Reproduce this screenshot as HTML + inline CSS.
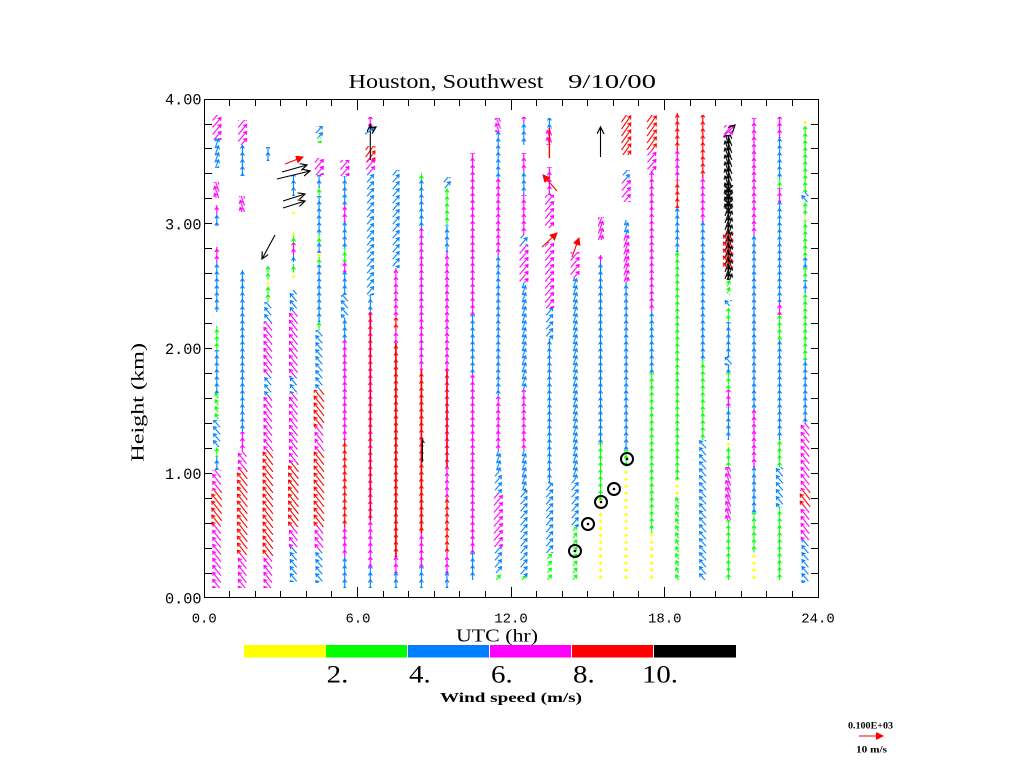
<!DOCTYPE html>
<html><head><meta charset="utf-8"><style>
html,body{margin:0;padding:0;background:#fff;width:1024px;height:768px;overflow:hidden}
svg{display:block}
.ser{font-family:"Liberation Serif",serif}
.mono{font-family:"Liberation Mono",monospace}
</style></head><body>
<svg width="1024" height="768" viewBox="0 0 1024 768" xmlns="http://www.w3.org/2000/svg">
<defs>
<path id="aY" fill="none" stroke-width="1.1" d="M0 1.5V-1.5M-1.5 0.5L0-1.5L1.5 0.5"/>
<path id="aG" fill="none" stroke-width="1.1" d="M0 3V-3M-2 0L0-3L2 0"/>
<path id="aB" fill="none" stroke-width="1.1" d="M0 5V-5M-2-2L0-5L2-2"/>
<path id="aM" fill="none" stroke-width="1.1" d="M0 6.5V-6.5M-2-3.5L0-6.5L2-3.5"/>
<path id="aR" fill="none" stroke-width="1.1" d="M0 8V-8M-2-5L0-8L2-5"/>
<path id="aK" fill="none" stroke-width="1.1" d="M0 10V-10M-2-7L0-10L2-7"/>

<pattern id="YN" patternUnits="userSpaceOnUse" x="-20" y="0" width="40" height="7"><g stroke="#ffff00" transform="translate(20,3.5)"><use href="#aY" transform="translate(0,-7)"/><use href="#aY"/><use href="#aY" transform="translate(0,7)"/></g></pattern>

<pattern id="GN" patternUnits="userSpaceOnUse" x="-20" y="0" width="40" height="7"><g stroke="#00ff00" transform="translate(20,3.5)"><use href="#aG" transform="translate(0,-7)"/><use href="#aG"/><use href="#aG" transform="translate(0,7)"/></g></pattern>
<pattern id="GNNW" patternUnits="userSpaceOnUse" x="-20" y="0" width="40" height="7"><g stroke="#00ff00" transform="translate(20,3.5)"><use href="#aG" transform="translate(0,-7)rotate(-25)"/><use href="#aG" transform="rotate(-25)"/><use href="#aG" transform="translate(0,7)rotate(-25)"/></g></pattern>
<pattern id="GNE" patternUnits="userSpaceOnUse" x="-20" y="0" width="40" height="7"><g stroke="#00ff00" transform="translate(20,3.5)"><use href="#aG" transform="translate(0,-7)rotate(40)"/><use href="#aG" transform="rotate(40)"/><use href="#aG" transform="translate(0,7)rotate(40)"/></g></pattern>
<pattern id="GNNE" patternUnits="userSpaceOnUse" x="-20" y="0" width="40" height="7"><g stroke="#00ff00" transform="translate(20,3.5)"><use href="#aG" transform="translate(0,-7)rotate(20)"/><use href="#aG" transform="rotate(20)"/><use href="#aG" transform="translate(0,7)rotate(20)"/></g></pattern>

<pattern id="BN" patternUnits="userSpaceOnUse" x="-20" y="0" width="40" height="7"><g stroke="#0080ff" transform="translate(20,3.5)"><use href="#aB" transform="translate(0,-14)"/><use href="#aB" transform="translate(0,-7)"/><use href="#aB"/><use href="#aB" transform="translate(0,7)"/><use href="#aB" transform="translate(0,14)"/></g></pattern>
<pattern id="BNW" patternUnits="userSpaceOnUse" x="-20" y="0" width="40" height="7"><g stroke="#0080ff" transform="translate(20,3.5)"><use href="#aB" transform="translate(0,-14)rotate(-40)"/><use href="#aB" transform="translate(0,-7)rotate(-40)"/><use href="#aB" transform="rotate(-40)"/><use href="#aB" transform="translate(0,7)rotate(-40)"/><use href="#aB" transform="translate(0,14)rotate(-40)"/></g></pattern>
<pattern id="BNE" patternUnits="userSpaceOnUse" x="-20" y="0" width="40" height="7"><g stroke="#0080ff" transform="translate(20,3.5)"><use href="#aB" transform="translate(0,-14)rotate(40)"/><use href="#aB" transform="translate(0,-7)rotate(40)"/><use href="#aB" transform="rotate(40)"/><use href="#aB" transform="translate(0,7)rotate(40)"/><use href="#aB" transform="translate(0,14)rotate(40)"/></g></pattern>
<pattern id="BNNE" patternUnits="userSpaceOnUse" x="-20" y="0" width="40" height="7"><g stroke="#0080ff" transform="translate(20,3.5)"><use href="#aB" transform="translate(0,-14)rotate(20)"/><use href="#aB" transform="translate(0,-7)rotate(20)"/><use href="#aB" transform="rotate(20)"/><use href="#aB" transform="translate(0,7)rotate(20)"/><use href="#aB" transform="translate(0,14)rotate(20)"/></g></pattern>

<pattern id="MN" patternUnits="userSpaceOnUse" x="-20" y="0" width="40" height="7"><g stroke="#ff00ff" transform="translate(20,3.5)"><use href="#aM" transform="translate(0,-14)"/><use href="#aM" transform="translate(0,-7)"/><use href="#aM"/><use href="#aM" transform="translate(0,7)"/><use href="#aM" transform="translate(0,14)"/></g></pattern>
<pattern id="MNW" patternUnits="userSpaceOnUse" x="-20" y="0" width="40" height="7"><g stroke="#ff00ff" transform="translate(20,3.5)"><use href="#aM" transform="translate(0,-14)rotate(-38)"/><use href="#aM" transform="translate(0,-7)rotate(-38)"/><use href="#aM" transform="rotate(-38)"/><use href="#aM" transform="translate(0,7)rotate(-38)"/><use href="#aM" transform="translate(0,14)rotate(-38)"/></g></pattern>
<pattern id="MNE" patternUnits="userSpaceOnUse" x="-20" y="0" width="40" height="7"><g stroke="#ff00ff" transform="translate(20,3.5)"><use href="#aM" transform="translate(0,-14)rotate(40)"/><use href="#aM" transform="translate(0,-7)rotate(40)"/><use href="#aM" transform="rotate(40)"/><use href="#aM" transform="translate(0,7)rotate(40)"/><use href="#aM" transform="translate(0,14)rotate(40)"/></g></pattern>
<pattern id="MNNW" patternUnits="userSpaceOnUse" x="-20" y="0" width="40" height="7"><g stroke="#ff00ff" transform="translate(20,3.5)"><use href="#aM" transform="translate(0,-14)rotate(-20)"/><use href="#aM" transform="translate(0,-7)rotate(-20)"/><use href="#aM" transform="rotate(-20)"/><use href="#aM" transform="translate(0,7)rotate(-20)"/><use href="#aM" transform="translate(0,14)rotate(-20)"/></g></pattern>
<pattern id="MNNE" patternUnits="userSpaceOnUse" x="-20" y="0" width="40" height="7"><g stroke="#ff00ff" transform="translate(20,3.5)"><use href="#aM" transform="translate(0,-14)rotate(20)"/><use href="#aM" transform="translate(0,-7)rotate(20)"/><use href="#aM" transform="rotate(20)"/><use href="#aM" transform="translate(0,7)rotate(20)"/><use href="#aM" transform="translate(0,14)rotate(20)"/></g></pattern>

<pattern id="RN" patternUnits="userSpaceOnUse" x="-20" y="0" width="40" height="7"><g stroke="#ff0000" transform="translate(20,3.5)"><use href="#aR" transform="translate(0,-14)"/><use href="#aR" transform="translate(0,-7)"/><use href="#aR"/><use href="#aR" transform="translate(0,7)"/><use href="#aR" transform="translate(0,14)"/></g></pattern>
<pattern id="RNW" patternUnits="userSpaceOnUse" x="-20" y="0" width="40" height="7"><g stroke="#ff0000" transform="translate(20,3.5)"><use href="#aR" transform="translate(0,-14)rotate(-38)"/><use href="#aR" transform="translate(0,-7)rotate(-38)"/><use href="#aR" transform="rotate(-38)"/><use href="#aR" transform="translate(0,7)rotate(-38)"/><use href="#aR" transform="translate(0,14)rotate(-38)"/></g></pattern>
<pattern id="RNE" patternUnits="userSpaceOnUse" x="-20" y="0" width="40" height="7"><g stroke="#ff0000" transform="translate(20,3.5)"><use href="#aR" transform="translate(0,-14)rotate(35)"/><use href="#aR" transform="translate(0,-7)rotate(35)"/><use href="#aR" transform="rotate(35)"/><use href="#aR" transform="translate(0,7)rotate(35)"/><use href="#aR" transform="translate(0,14)rotate(35)"/></g></pattern>

<pattern id="KN" patternUnits="userSpaceOnUse" x="-20" y="0" width="40" height="7"><g stroke="#000" transform="translate(20,3.5)"><use href="#aK" transform="translate(0,-14)"/><use href="#aK" transform="translate(0,-7)"/><use href="#aK"/><use href="#aK" transform="translate(0,7)"/><use href="#aK" transform="translate(0,14)"/></g></pattern>
<pattern id="KNW" patternUnits="userSpaceOnUse" x="-20" y="0" width="40" height="7"><g stroke="#000" transform="translate(20,3.5)"><use href="#aK" transform="translate(0,-14)rotate(-20)"/><use href="#aK" transform="translate(0,-7)rotate(-20)"/><use href="#aK" transform="rotate(-20)"/><use href="#aK" transform="translate(0,7)rotate(-20)"/><use href="#aK" transform="translate(0,14)rotate(-20)"/></g></pattern>
<pattern id="KNE" patternUnits="userSpaceOnUse" x="-20" y="0" width="40" height="7"><g stroke="#000" transform="translate(20,3.5)"><use href="#aK" transform="translate(0,-14)rotate(20)"/><use href="#aK" transform="translate(0,-7)rotate(20)"/><use href="#aK" transform="rotate(20)"/><use href="#aK" transform="translate(0,7)rotate(20)"/><use href="#aK" transform="translate(0,14)rotate(20)"/></g></pattern>

<marker id="mK" markerWidth="10" markerHeight="10" refX="7" refY="3.5" orient="auto" markerUnits="userSpaceOnUse"><path d="M0 0L7 3.5L0 7" fill="none" stroke="#000" stroke-width="1.2"/></marker>
<marker id="mR" markerWidth="10" markerHeight="10" refX="7" refY="3.5" orient="auto" markerUnits="userSpaceOnUse"><path d="M0 0L7 3.5L0 7z" fill="#f00" stroke="#f00" stroke-width="1"/></marker>
</defs>

<!-- Data columns -->
<g transform="translate(216.8,0)">
<rect x="-20" width="40" y="115" height="25" fill="url(#MNE)"/>
<rect x="-20" width="40" y="138" height="30" fill="url(#BNNE)"/>
<rect x="-20" width="40" y="182" height="16" fill="url(#MNNW)"/>
<rect x="-20" width="40" y="205" height="9" fill="url(#MN)"/>
<rect x="-20" width="40" y="214" height="12" fill="url(#BN)"/>
<rect x="-20" width="40" y="247" height="15" fill="url(#MN)"/>
<rect x="-20" width="40" y="262" height="50" fill="url(#BN)"/>
<rect x="-20" width="40" y="326" height="24" fill="url(#GN)"/>
<rect x="-20" width="40" y="350" height="43" fill="url(#BN)"/>
<rect x="-20" width="40" y="393" height="27" fill="url(#GNNW)"/>
<rect x="-20" width="40" y="420" height="27" fill="url(#BNW)"/>
<rect x="-20" width="40" y="447" height="10" fill="url(#GN)"/>
<rect x="-20" width="40" y="457" height="13" fill="url(#BN)"/>
<rect x="-20" width="40" y="470" height="20" fill="url(#MNW)"/>
<rect x="-20" width="40" y="490" height="35" fill="url(#RNW)"/>
<rect x="-20" width="40" y="525" height="63" fill="url(#MNW)"/>
</g>
<g transform="translate(242.4,0)">
<rect x="-20" width="40" y="120" height="25" fill="url(#MNE)"/>
<rect x="-20" width="40" y="145" height="31" fill="url(#BN)"/>
<rect x="-20" width="40" y="196" height="16" fill="url(#MNNW)"/>
<rect x="-20" width="40" y="270" height="162" fill="url(#BN)"/>
<rect x="-20" width="40" y="432" height="20" fill="url(#MN)"/>
<rect x="-20" width="40" y="452" height="18" fill="url(#MNW)"/>
<rect x="-20" width="40" y="470" height="85" fill="url(#RNW)"/>
<rect x="-20" width="40" y="555" height="33" fill="url(#MNW)"/>
</g>
<g transform="translate(268,0)">
<rect x="-20" width="40" y="147" height="14" fill="url(#BN)"/>
<rect x="-20" width="40" y="266" height="14" fill="url(#GN)"/>
<rect x="-20" width="40" y="280" height="6" fill="url(#YN)"/>
<rect x="-20" width="40" y="286" height="16" fill="url(#GN)"/>
<rect x="-20" width="40" y="302" height="20" fill="url(#BNW)"/>
<rect x="-20" width="40" y="322" height="53" fill="url(#MNW)"/>
<rect x="-20" width="40" y="375" height="22" fill="url(#BNW)"/>
<rect x="-20" width="40" y="397" height="53" fill="url(#MNW)"/>
<rect x="-20" width="40" y="450" height="107" fill="url(#RNW)"/>
<rect x="-20" width="40" y="557" height="31" fill="url(#MNW)"/>
</g>
<g transform="translate(293.5,0)">
<rect x="-20" width="40" y="175" height="21" fill="url(#BN)"/>
<rect x="-20" width="40" y="208" height="6" fill="url(#YN)"/>
<rect x="-20" width="40" y="231" height="5" fill="url(#YN)"/>
<rect x="-20" width="40" y="236" height="7" fill="url(#GN)"/>
<rect x="-20" width="40" y="243" height="13" fill="url(#MN)"/>
<rect x="-20" width="40" y="256" height="6" fill="url(#BN)"/>
<rect x="-20" width="40" y="264" height="9" fill="url(#GN)"/>
<rect x="-20" width="40" y="275" height="5" fill="url(#YN)"/>
<rect x="-20" width="40" y="290" height="22" fill="url(#BNW)"/>
<rect x="-20" width="40" y="312" height="65" fill="url(#MNW)"/>
<rect x="-20" width="40" y="377" height="16" fill="url(#BNW)"/>
<rect x="-20" width="40" y="393" height="70" fill="url(#MNW)"/>
<rect x="-20" width="40" y="463" height="64" fill="url(#RNW)"/>
<rect x="-20" width="40" y="527" height="20" fill="url(#MNW)"/>
<rect x="-20" width="40" y="547" height="35" fill="url(#BNW)"/>
</g>
<g transform="translate(319.1,0)">
<rect x="-20" width="40" y="126" height="11" fill="url(#BNE)"/>
<rect x="-20" width="40" y="137" height="6" fill="url(#GNE)"/>
<rect x="-20" width="40" y="158" height="17" fill="url(#MNE)"/>
<rect x="-20" width="40" y="175" height="13" fill="url(#BN)"/>
<rect x="-20" width="40" y="188" height="8" fill="url(#GN)"/>
<rect x="-20" width="40" y="196" height="38" fill="url(#BN)"/>
<rect x="-20" width="40" y="234" height="8" fill="url(#GN)"/>
<rect x="-20" width="40" y="242" height="11" fill="url(#BN)"/>
<rect x="-20" width="40" y="253" height="4" fill="url(#YN)"/>
<rect x="-20" width="40" y="257" height="8" fill="url(#GN)"/>
<rect x="-20" width="40" y="265" height="57" fill="url(#BN)"/>
<rect x="-20" width="40" y="322" height="8" fill="url(#GN)"/>
<rect x="-20" width="40" y="330" height="60" fill="url(#BNW)"/>
<rect x="-20" width="40" y="390" height="37" fill="url(#RNW)"/>
<rect x="-20" width="40" y="427" height="23" fill="url(#MNW)"/>
<rect x="-20" width="40" y="450" height="77" fill="url(#RNW)"/>
<rect x="-20" width="40" y="527" height="23" fill="url(#MNW)"/>
<rect x="-20" width="40" y="550" height="33" fill="url(#BNW)"/>
</g>
<g transform="translate(344.7,0)">
<rect x="-20" width="40" y="160" height="16" fill="url(#MNE)"/>
<rect x="-20" width="40" y="176" height="29" fill="url(#BN)"/>
<rect x="-20" width="40" y="205" height="17" fill="url(#MN)"/>
<rect x="-20" width="40" y="222" height="26" fill="url(#BN)"/>
<rect x="-20" width="40" y="248" height="14" fill="url(#GN)"/>
<rect x="-20" width="40" y="262" height="10" fill="url(#MN)"/>
<rect x="-20" width="40" y="272" height="23" fill="url(#BN)"/>
<rect x="-20" width="40" y="295" height="23" fill="url(#BNW)"/>
<rect x="-20" width="40" y="318" height="22" fill="url(#BN)"/>
<rect x="-20" width="40" y="340" height="100" fill="url(#MN)"/>
<rect x="-20" width="40" y="440" height="87" fill="url(#RN)"/>
<rect x="-20" width="40" y="527" height="30" fill="url(#MN)"/>
<rect x="-20" width="40" y="557" height="31" fill="url(#BN)"/>
</g>
<g transform="translate(370.3,0)">
<rect x="-20" width="40" y="117" height="11" fill="url(#MN)"/>
<rect x="-20" width="40" y="146" height="16" fill="url(#RNE)"/>
<rect x="-20" width="40" y="158" height="15" fill="url(#MNE)"/>
<rect x="-20" width="40" y="173" height="122" fill="url(#BNE)"/>
<rect x="-20" width="40" y="295" height="17" fill="url(#BN)"/>
<rect x="-20" width="40" y="312" height="208" fill="url(#MN)"/>
<line x1="0" y1="312" x2="0" y2="520" stroke="#f00" stroke-width="1.6"/>
<rect x="-20" width="40" y="520" height="47" fill="url(#MN)"/>
<rect x="-20" width="40" y="567" height="21" fill="url(#BN)"/>
</g>
<g transform="translate(395.9,0)">
<rect x="-20" width="40" y="170" height="98" fill="url(#BNE)"/>
<rect x="-20" width="40" y="268" height="50" fill="url(#MN)"/>
<rect x="-20" width="40" y="318" height="12" fill="url(#RN)"/>
<rect x="-20" width="40" y="330" height="13" fill="url(#MN)"/>
<rect x="-20" width="40" y="343" height="214" fill="url(#RN)"/>
<line x1="0" y1="343" x2="0" y2="557" stroke="#f00" stroke-width="1.6"/>
<rect x="-20" width="40" y="557" height="16" fill="url(#MN)"/>
<rect x="-20" width="40" y="573" height="15" fill="url(#BN)"/>
</g>
<g transform="translate(421.4,0)">
<rect x="-20" width="40" y="173" height="7" fill="url(#GN)"/>
<rect x="-20" width="40" y="180" height="48" fill="url(#BN)"/>
<rect x="-20" width="40" y="228" height="142" fill="url(#MN)"/>
<rect x="-20" width="40" y="370" height="163" fill="url(#RN)"/>
<line x1="0" y1="370" x2="0" y2="533" stroke="#f00" stroke-width="1.6"/>
<path d="M1 462V440l2 3" fill="none" stroke="#000" stroke-width="1.1"/>
<rect x="-20" width="40" y="533" height="34" fill="url(#MN)"/>
<rect x="-20" width="40" y="567" height="21" fill="url(#BN)"/>
</g>
<g transform="translate(447,0)">
<rect x="-20" width="40" y="177" height="11" fill="url(#BNE)"/>
<rect x="-20" width="40" y="188" height="37" fill="url(#GN)"/>
<rect x="-20" width="40" y="225" height="27" fill="url(#BN)"/>
<rect x="-20" width="40" y="252" height="118" fill="url(#MN)"/>
<rect x="-20" width="40" y="370" height="97" fill="url(#MN)"/>
<line x1="0" y1="370" x2="0" y2="467" stroke="#f00" stroke-width="1.6"/>
<rect x="-20" width="40" y="467" height="30" fill="url(#MN)"/>
<rect x="-20" width="40" y="497" height="56" fill="url(#RN)"/>
<rect x="-20" width="40" y="553" height="20" fill="url(#MN)"/>
<rect x="-20" width="40" y="573" height="15" fill="url(#BN)"/>
</g>
<g transform="translate(472.6,0)">
<rect x="-20" width="40" y="153" height="162" fill="url(#MN)"/>
<rect x="-20" width="40" y="315" height="58" fill="url(#BN)"/>
<rect x="-20" width="40" y="373" height="180" fill="url(#MN)"/>
<rect x="-20" width="40" y="553" height="27" fill="url(#BN)"/>
</g>
<g transform="translate(498.2,0)">
<rect x="-20" width="40" y="118" height="14" fill="url(#MNNW)"/>
<rect x="-20" width="40" y="132" height="46" fill="url(#BN)"/>
<rect x="-20" width="40" y="178" height="77" fill="url(#MN)"/>
<rect x="-20" width="40" y="255" height="142" fill="url(#BN)"/>
<rect x="-20" width="40" y="397" height="53" fill="url(#MN)"/>
<rect x="-20" width="40" y="450" height="23" fill="url(#BNNE)"/>
<rect x="-20" width="40" y="473" height="20" fill="url(#BNE)"/>
<rect x="-20" width="40" y="493" height="54" fill="url(#MNE)"/>
<rect x="-20" width="40" y="547" height="26" fill="url(#BNE)"/>
<rect x="-20" width="40" y="573" height="7" fill="url(#GNE)"/>
</g>
<g transform="translate(523.8,0)">
<rect x="-20" width="40" y="117" height="5" fill="url(#MN)"/>
<rect x="-20" width="40" y="122" height="23" fill="url(#BN)"/>
<rect x="-20" width="40" y="153" height="19" fill="url(#MN)"/>
<rect x="-20" width="40" y="172" height="23" fill="url(#BN)"/>
<rect x="-20" width="40" y="195" height="40" fill="url(#MN)"/>
<rect x="-20" width="40" y="235" height="10" fill="url(#BNE)"/>
<rect x="-20" width="40" y="245" height="37" fill="url(#MNE)"/>
<rect x="-20" width="40" y="282" height="108" fill="url(#BNNE)"/>
<rect x="-20" width="40" y="390" height="60" fill="url(#MN)"/>
<rect x="-20" width="40" y="450" height="40" fill="url(#BNNE)"/>
<rect x="-20" width="40" y="490" height="88" fill="url(#BNE)"/>
<rect x="-20" width="40" y="576" height="6" fill="url(#GNE)"/>
</g>
<g transform="translate(549.4,0)">
<rect x="-20" width="40" y="118" height="10" fill="url(#BN)"/>
<rect x="-20" width="40" y="128" height="17" fill="url(#MNNW)"/>
<line x1="0" y1="128" x2="0" y2="158" stroke="#f00" stroke-width="1.4"/>
<rect x="-20" width="40" y="167" height="28" fill="url(#MN)"/>
<rect x="-20" width="40" y="195" height="33" fill="url(#MNE)"/>
<rect x="-20" width="40" y="242" height="66" fill="url(#MNE)"/>
<rect x="-20" width="40" y="308" height="32" fill="url(#BNE)"/>
<rect x="-20" width="40" y="340" height="143" fill="url(#BN)"/>
<rect x="-20" width="40" y="483" height="70" fill="url(#BNE)"/>
<rect x="-20" width="40" y="553" height="27" fill="url(#GNE)"/>
</g>
<g transform="translate(574.9,0)">
<rect x="-20" width="40" y="252" height="26" fill="url(#MNE)"/>
<rect x="-20" width="40" y="278" height="202" fill="url(#BNNE)"/>
<rect x="-20" width="40" y="480" height="47" fill="url(#BNE)"/>
<rect x="-20" width="40" y="527" height="53" fill="url(#GNE)"/>
</g>
<g transform="translate(600.5,0)">
<rect x="-20" width="40" y="217" height="23" fill="url(#MNNE)"/>
<rect x="-20" width="40" y="255" height="7" fill="url(#MN)"/>
<rect x="-20" width="40" y="262" height="181" fill="url(#BN)"/>
<rect x="-20" width="40" y="443" height="57" fill="url(#GN)"/>
<rect x="-20" width="40" y="500" height="80" fill="url(#YN)"/>
</g>
<g transform="translate(626.1,0)">
<rect x="-20" width="40" y="115" height="40" fill="url(#RNE)"/>
<rect x="-20" width="40" y="170" height="10" fill="url(#BNE)"/>
<rect x="-20" width="40" y="180" height="22" fill="url(#MNE)"/>
<rect x="-20" width="40" y="220" height="15" fill="url(#BNNE)"/>
<rect x="-20" width="40" y="235" height="47" fill="url(#MNNE)"/>
<rect x="-20" width="40" y="282" height="168" fill="url(#BN)"/>
<rect x="-20" width="40" y="450" height="17" fill="url(#GN)"/>
<rect x="-20" width="40" y="467" height="113" fill="url(#YN)"/>
</g>
<g transform="translate(651.7,0)">
<rect x="-20" width="40" y="115" height="35" fill="url(#RNE)"/>
<rect x="-20" width="40" y="150" height="22" fill="url(#MNE)"/>
<rect x="-20" width="40" y="172" height="140" fill="url(#MN)"/>
<rect x="-20" width="40" y="312" height="61" fill="url(#BN)"/>
<rect x="-20" width="40" y="373" height="160" fill="url(#GN)"/>
<rect x="-20" width="40" y="533" height="47" fill="url(#YN)"/>
</g>
<g transform="translate(677.3,0)">
<rect x="-20" width="40" y="113" height="37" fill="url(#RN)"/>
<rect x="-20" width="40" y="150" height="30" fill="url(#MN)"/>
<rect x="-20" width="40" y="180" height="28" fill="url(#RN)"/>
<rect x="-20" width="40" y="208" height="44" fill="url(#BN)"/>
<rect x="-20" width="40" y="252" height="228" fill="url(#GN)"/>
<rect x="-20" width="40" y="480" height="17" fill="url(#YN)"/>
<rect x="-20" width="40" y="497" height="83" fill="url(#GNNW)"/>
</g>
<g transform="translate(702.8,0)">
<rect x="-20" width="40" y="115" height="63" fill="url(#RN)"/>
<rect x="-20" width="40" y="178" height="44" fill="url(#MN)"/>
<rect x="-20" width="40" y="222" height="138" fill="url(#BN)"/>
<rect x="-20" width="40" y="360" height="80" fill="url(#GN)"/>
<rect x="-20" width="40" y="440" height="140" fill="url(#BNW)"/>
</g>
<g transform="translate(728.4,0)">
<rect x="-20" width="40" y="125" height="10" fill="url(#MNE)"/>
<rect x="-20" width="40" y="135" height="145" fill="url(#KN)"/>
<rect x="-20" width="40" y="135" height="75" fill="url(#KNW)"/>
<rect x="-20" width="40" y="185" height="95" fill="url(#KNE)"/>
<rect x="-20" width="40" y="232" height="36" fill="url(#RNW)"/>
<rect x="-20" width="40" y="280" height="15" fill="url(#GNNE)"/>
<rect x="-20" width="40" y="300" height="6" fill="url(#BNW)"/>
<rect x="-20" width="40" y="308" height="14" fill="url(#GN)"/>
<rect x="-20" width="40" y="322" height="35" fill="url(#BN)"/>
<rect x="-20" width="40" y="357" height="8" fill="url(#BNW)"/>
<rect x="-20" width="40" y="365" height="8" fill="url(#BN)"/>
<rect x="-20" width="40" y="373" height="17" fill="url(#GN)"/>
<rect x="-20" width="40" y="390" height="17" fill="url(#MN)"/>
<rect x="-20" width="40" y="407" height="33" fill="url(#BN)"/>
<rect x="-20" width="40" y="440" height="7" fill="url(#YN)"/>
<rect x="-20" width="40" y="447" height="20" fill="url(#GN)"/>
<rect x="-20" width="40" y="467" height="53" fill="url(#MNNW)"/>
<rect x="-20" width="40" y="520" height="60" fill="url(#GN)"/>
</g>
<g transform="translate(754,0)">
<rect x="-20" width="40" y="118" height="117" fill="url(#MN)"/>
<rect x="-20" width="40" y="235" height="175" fill="url(#BN)"/>
<rect x="-20" width="40" y="410" height="57" fill="url(#MN)"/>
<rect x="-20" width="40" y="467" height="46" fill="url(#BN)"/>
<rect x="-20" width="40" y="513" height="40" fill="url(#GN)"/>
<rect x="-20" width="40" y="553" height="27" fill="url(#YN)"/>
</g>
<g transform="translate(779.6,0)">
<rect x="-20" width="40" y="117" height="21" fill="url(#MN)"/>
<rect x="-20" width="40" y="138" height="40" fill="url(#BN)"/>
<rect x="-20" width="40" y="178" height="10" fill="url(#GN)"/>
<rect x="-20" width="40" y="188" height="14" fill="url(#MN)"/>
<rect x="-20" width="40" y="202" height="100" fill="url(#BN)"/>
<rect x="-20" width="40" y="302" height="13" fill="url(#MN)"/>
<rect x="-20" width="40" y="315" height="25" fill="url(#GN)"/>
<rect x="-20" width="40" y="340" height="100" fill="url(#BN)"/>
<rect x="-20" width="40" y="440" height="27" fill="url(#GN)"/>
<rect x="-20" width="40" y="467" height="40" fill="url(#BNW)"/>
<rect x="-20" width="40" y="507" height="73" fill="url(#GN)"/>
</g>
<g transform="translate(805.2,0)">
<rect x="-20" width="40" y="120" height="6" fill="url(#YN)"/>
<rect x="-20" width="40" y="126" height="66" fill="url(#GN)"/>
<rect x="-20" width="40" y="192" height="10" fill="url(#BNW)"/>
<rect x="-20" width="40" y="202" height="13" fill="url(#GN)"/>
<rect x="-20" width="40" y="215" height="5" fill="url(#YN)"/>
<rect x="-20" width="40" y="220" height="38" fill="url(#GN)"/>
<rect x="-20" width="40" y="258" height="10" fill="url(#BN)"/>
<rect x="-20" width="40" y="268" height="12" fill="url(#GN)"/>
<rect x="-20" width="40" y="280" height="13" fill="url(#BN)"/>
<rect x="-20" width="40" y="293" height="67" fill="url(#GN)"/>
<rect x="-20" width="40" y="360" height="63" fill="url(#BN)"/>
<rect x="-20" width="40" y="423" height="67" fill="url(#MNW)"/>
<rect x="-20" width="40" y="490" height="17" fill="url(#RNW)"/>
<rect x="-20" width="40" y="507" height="33" fill="url(#MNW)"/>
<rect x="-20" width="40" y="540" height="43" fill="url(#BNW)"/>
</g>

<!-- special arrows -->
<g fill="none" stroke-width="1.1">
<line x1="285" y1="164" x2="303" y2="157" stroke="#f00" marker-end="url(#mR)"/>
<line x1="282" y1="172" x2="307" y2="165" stroke="#000" marker-end="url(#mK)"/>
<line x1="277" y1="179" x2="310" y2="171" stroke="#000" marker-end="url(#mK)"/>
<line x1="283" y1="201" x2="305" y2="194" stroke="#000" marker-end="url(#mK)"/>
<line x1="283" y1="208" x2="305" y2="201" stroke="#000" marker-end="url(#mK)"/>
<line x1="275" y1="235" x2="262" y2="259" stroke="#000" marker-end="url(#mK)"/>
<line x1="370.3" y1="160" x2="370.3" y2="125" stroke="#000" marker-end="url(#mK)"/>
<line x1="365" y1="134" x2="376" y2="127" stroke="#0080ff" marker-end="url(#mK)"/>
<line x1="557" y1="191" x2="543" y2="175" stroke="#f00" marker-end="url(#mR)"/>
<line x1="542" y1="247" x2="557" y2="233" stroke="#f00" marker-end="url(#mR)"/>
<line x1="572" y1="257" x2="579" y2="238" stroke="#f00" marker-end="url(#mR)"/>
<line x1="600.5" y1="157" x2="600.5" y2="127" stroke="#000" marker-end="url(#mK)"/>
<line x1="723" y1="137" x2="735" y2="125" stroke="#ff00ff" marker-end="url(#mK)"/>
</g>

<!-- circles -->
<g fill="none" stroke="#000" stroke-width="2">
<circle cx="575" cy="551" r="6"/>
<circle cx="588" cy="524" r="6"/>
<circle cx="601" cy="502" r="6"/>
<circle cx="614" cy="489" r="6"/>
<circle cx="627" cy="459" r="6"/>
</g>
<g fill="#000">
<circle cx="575" cy="551" r="1.3"/>
<circle cx="588" cy="524" r="1.3"/>
<circle cx="601" cy="502" r="1.3"/>
<circle cx="614" cy="489" r="1.3"/>
<circle cx="627" cy="459" r="1.3"/>
</g>

<!-- axes -->
<rect x="204.5" y="99.5" width="614" height="498" fill="none" stroke="#000" stroke-width="1" shape-rendering="crispEdges"/>
<path shape-rendering="crispEdges" stroke="#000" stroke-width="1" fill="none" d="
M229.5 597v-6M255.5 597v-6M280.5 597v-6M306.5 597v-6M331.5 597v-6M357.5 597v-10M383.5 597v-6M408.5 597v-6M434.5 597v-6M459.5 597v-6M485.5 597v-6M511.5 597v-10M536.5 597v-6M562.5 597v-6M587.5 597v-6M613.5 597v-6M638.5 597v-6M664.5 597v-10M690.5 597v-6M715.5 597v-6M741.5 597v-6M766.5 597v-6M792.5 597v-6
M229.5 100v6M255.5 100v6M280.5 100v6M306.5 100v6M331.5 100v6M357.5 100v10M383.5 100v6M408.5 100v6M434.5 100v6M459.5 100v6M485.5 100v6M511.5 100v10M536.5 100v6M562.5 100v6M587.5 100v6M613.5 100v6M638.5 100v6M664.5 100v10M690.5 100v6M715.5 100v6M741.5 100v6M766.5 100v6M792.5 100v6
M205 573.5h7M205 548.5h7M205 523.5h7M205 498.5h7M205 473.5h7M205 448.5h7M205 423.5h7M205 398.5h7M205 373.5h7M205 348.5h7M205 323.5h7M205 298.5h7M205 273.5h7M205 248.5h7M205 223.5h7M205 198.5h7M205 173.5h7M205 148.5h7M205 124.5h7
M818 573.5h-7M818 548.5h-7M818 523.5h-7M818 498.5h-7M818 473.5h-7M818 448.5h-7M818 423.5h-7M818 398.5h-7M818 373.5h-7M818 348.5h-7M818 323.5h-7M818 298.5h-7M818 273.5h-7M818 248.5h-7M818 223.5h-7M818 198.5h-7M818 173.5h-7M818 148.5h-7M818 124.5h-7"/>

<!-- title -->
<text class="ser" x="348.5" y="88" font-size="20" textLength="195" lengthAdjust="spacingAndGlyphs">Houston, Southwest</text>
<text class="ser" x="568" y="88" font-size="20" textLength="88" lengthAdjust="spacingAndGlyphs">9/10/00</text>

<!-- y labels -->
<g class="mono" font-size="16" fill="#000">
<text x="165" y="104.5" textLength="36.5" lengthAdjust="spacingAndGlyphs">4.00</text>
<text x="165" y="229.5" textLength="36.5" lengthAdjust="spacingAndGlyphs">3.00</text>
<text x="165" y="354" textLength="36.5" lengthAdjust="spacingAndGlyphs">2.00</text>
<text x="165" y="479" textLength="36.5" lengthAdjust="spacingAndGlyphs">1.00</text>
<text x="165" y="603.5" textLength="36.5" lengthAdjust="spacingAndGlyphs">0.00</text>
</g>
<!-- x labels -->
<g class="mono" font-size="14" fill="#000">
<text x="191.7" y="622.7" textLength="25" lengthAdjust="spacingAndGlyphs">0.0</text>
<text x="345.5" y="622.7" textLength="25" lengthAdjust="spacingAndGlyphs">6.0</text>
<text x="494.3" y="622.7" textLength="33.5" lengthAdjust="spacingAndGlyphs">12.0</text>
<text x="648" y="622.7" textLength="33.5" lengthAdjust="spacingAndGlyphs">18.0</text>
<text x="801.3" y="622.7" textLength="33.5" lengthAdjust="spacingAndGlyphs">24.0</text>
</g>
<text class="ser" x="456" y="641.5" font-size="18" textLength="82" lengthAdjust="spacingAndGlyphs">UTC (hr)</text>
<text class="ser" transform="translate(143.5,461.7) rotate(-90)" font-size="18" textLength="118.7" lengthAdjust="spacingAndGlyphs">Height (km)</text>

<!-- colorbar -->
<g shape-rendering="crispEdges">
<rect x="244" y="645" width="82" height="12.5" fill="#ffff00"/>
<rect x="326" y="645" width="81" height="12.5" fill="#00ff00"/>
<rect x="408" y="645" width="81" height="12.5" fill="#0080ff"/>
<rect x="490" y="645" width="81" height="12.5" fill="#ff00ff"/>
<rect x="572" y="645" width="81" height="12.5" fill="#ff0000"/>
<rect x="654" y="645" width="82" height="12.5" fill="#000000"/>
</g>
<g class="ser" font-size="25" fill="#000">
<text x="326.7" y="682.7" textLength="21.7" lengthAdjust="spacingAndGlyphs">2.</text>
<text x="409" y="682.7" textLength="21.7" lengthAdjust="spacingAndGlyphs">4.</text>
<text x="491" y="682.7" textLength="21.7" lengthAdjust="spacingAndGlyphs">6.</text>
<text x="573" y="682.7" textLength="21.7" lengthAdjust="spacingAndGlyphs">8.</text>
<text x="642" y="682.7" textLength="36" lengthAdjust="spacingAndGlyphs">10.</text>
</g>
<text class="ser" x="440" y="702" font-size="13.5" font-weight="bold" textLength="142" lengthAdjust="spacingAndGlyphs">Wind speed (m/s)</text>

<!-- scale arrow -->
<text class="ser" x="848" y="728.3" font-size="9.5" font-weight="bold" textLength="45" lengthAdjust="spacingAndGlyphs">0.100E+03</text>
<line x1="859" y1="736" x2="883" y2="736" stroke="#f00" stroke-width="1.1" marker-end="url(#mR)"/>
<text class="ser" x="856" y="752.5" font-size="9.5" font-weight="bold" textLength="31" lengthAdjust="spacingAndGlyphs">10 m/s</text>
</svg>
</body></html>
